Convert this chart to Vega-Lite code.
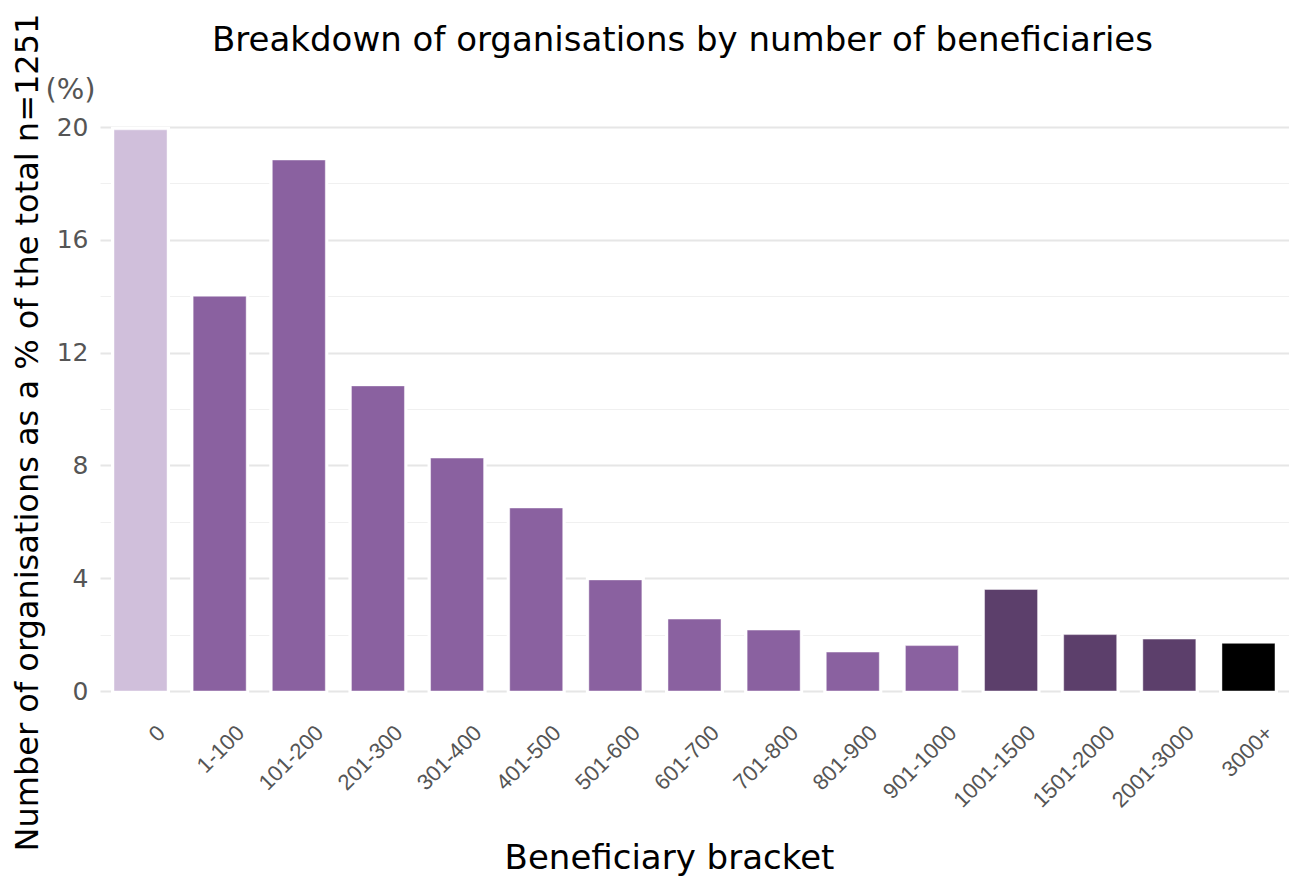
{
  "$schema": "https://vega.github.io/schema/vega-lite/v6.json",
  "width": 1189,
  "height": 564,
  "autosize": {"type": "none"},
  "padding": {"left": 100, "top": 127, "right": 0, "bottom": 188},
  "background": "white",
  "title": {
    "text": "Breakdown of organisations by number of beneficiaries",
    "font": "DejaVu Sans",
    "fontSize": 34,
    "fontWeight": "normal",
    "color": "#000000",
    "anchor": "middle",
    "baseline": "alphabetic",
    "dx": -12,
    "dy": 76
  },
  "config": {
    "view": {"stroke": null},
    "axis": {"domain": false, "ticks": false}
  },
  "data": {
    "values": [
      {"bracket": "0", "pct": 19.9, "group": "none"},
      {"bracket": "1-100", "pct": 14.0, "group": "small"},
      {"bracket": "101-200", "pct": 18.83, "group": "small"},
      {"bracket": "201-300", "pct": 10.82, "group": "small"},
      {"bracket": "301-400", "pct": 8.26, "group": "small"},
      {"bracket": "401-500", "pct": 6.49, "group": "small"},
      {"bracket": "501-600", "pct": 3.94, "group": "small"},
      {"bracket": "601-700", "pct": 2.55, "group": "small"},
      {"bracket": "701-800", "pct": 2.16, "group": "small"},
      {"bracket": "801-900", "pct": 1.38, "group": "small"},
      {"bracket": "901-1000", "pct": 1.61, "group": "small"},
      {"bracket": "1001-1500", "pct": 3.6, "group": "large"},
      {"bracket": "1501-2000", "pct": 2.0, "group": "large"},
      {"bracket": "2001-3000", "pct": 1.84, "group": "large"},
      {"bracket": "3000+", "pct": 1.69, "group": "top"}
    ]
  },
  "encoding": {
    "x": {
      "field": "bracket",
      "type": "nominal",
      "sort": null,
      "scale": {"paddingInner": 0.33, "paddingOuter": 0.177},
      "axis": {
        "title": "Beneficiary bracket",
        "titleFont": "DejaVu Sans",
        "titleFontSize": 34,
        "titleFontWeight": "normal",
        "titleColor": "#000000",
        "titleX": 569,
        "titleY": 177,
        "titleBaseline": "alphabetic",
        "titleAlign": "center",
        "labelAngle": -45,
        "labelAlign": "right",
        "labelBaseline": "middle",
        "labelPadding": 38,
        "labelOffset": 21,
        "labelFont": "Liberation Sans",
        "labelFontSize": 22,
        "labelColor": "#555555",
        "grid": false
      }
    },
    "y": {
      "field": "pct",
      "type": "quantitative",
      "scale": {"domain": [0, 20], "nice": false},
      "axis": {
        "title": "Number of organisations as a % of the total n=1251",
        "titleFont": "DejaVu Sans",
        "titleFontSize": 32,
        "titleFontWeight": "normal",
        "titleColor": "#000000",
        "titleAngle": 270,
        "titleX": -63,
        "titleY": 305,
        "titleBaseline": "alphabetic",
        "titleAlign": "center",
        "values": [0, 2, 4, 6, 8, 10, 12, 14, 16, 18, 20],
        "labelExpr": "datum.value % 4 === 0 ? datum.label : ''",
        "labelFont": "DejaVu Sans",
        "labelFontSize": 25,
        "labelColor": "#555555",
        "labelPadding": 12,
        "grid": true,
        "gridColor": {"condition": {"test": "datum.value % 4 === 0", "value": "#e6e6e6"}, "value": "#f0f0f0"},
        "gridWidth": {"condition": {"test": "datum.value % 4 === 0", "value": 2}, "value": 1}
      }
    }
  },
  "layer": [
    {
      "mark": {"type": "bar", "fill": "#ffffff", "stroke": "#ffffff", "strokeWidth": 6}
    },
    {
      "mark": {"type": "bar", "stroke": "#ffffff", "strokeOpacity": 0.45, "strokeWidth": 1},
      "encoding": {
        "color": {
          "field": "group",
          "type": "nominal",
          "scale": {"domain": ["none", "small", "large", "top"], "range": ["#d0bfdb", "#8a61a0", "#5c3f6b", "#000000"]},
          "legend": null
        }
      }
    },
    {
      "data": {"values": [{"bracket": "0", "pct": 21.3, "label": "(%)"}]},
      "mark": {"type": "text", "dx": -70, "font": "DejaVu Sans", "fontSize": 29, "color": "#555555", "baseline": "middle", "align": "center"},
      "encoding": {"text": {"field": "label", "type": "nominal"}}
    }
  ]
}
